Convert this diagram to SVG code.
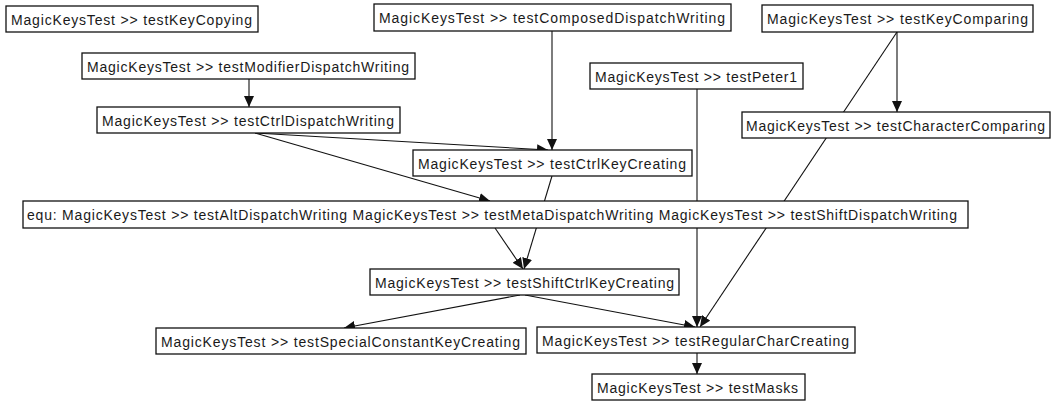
<svg xmlns="http://www.w3.org/2000/svg" width="1052" height="404" viewBox="0 0 1052 404">
<style>
.n rect{fill:#fff;stroke:#111;stroke-width:1.3}
.n text{font-family:"Liberation Sans",Arial,sans-serif;font-size:14px;fill:#1a1a1a}
#edges path{fill:none;stroke:#111;stroke-width:1.1;marker-end:url(#ah)}
</style>
<defs>
<marker id="ah" markerWidth="12" markerHeight="10" refX="11" refY="5" orient="auto" markerUnits="userSpaceOnUse">
<path d="M0,0 L11,5 L0,10 z" fill="#111"/>
</marker>
</defs>
<rect width="1052" height="404" fill="#fff"/>
<g id="edges">
<path d="M249,79 L249,107"/>
<path d="M552,31 L552,150"/>
<path d="M255,133 L548,150"/>
<path d="M255,133 L490,201"/>
<path d="M552,176 L524,269"/>
<path d="M495,228 L523,269"/>
<path d="M520,295 L344,328"/>
<path d="M525,295 L695,327"/>
<path d="M697,89 L697,327"/>
<path d="M897,32 L897,112"/>
<path d="M897,32 L700,327"/>
<path d="M697,353 L697,374"/>
</g>
<g id="n1" class="n"><rect x="6" y="6" width="252" height="26"/><text x="11" y="24.5" textLength="241" lengthAdjust="spacing">MagicKeysTest &gt;&gt; testKeyCopying</text></g>
<g id="n2" class="n"><rect x="82" y="53" width="333" height="26"/><text x="87" y="71.5" textLength="322" lengthAdjust="spacing">MagicKeysTest &gt;&gt; testModifierDispatchWriting</text></g>
<g id="n3" class="n"><rect x="97" y="107" width="303" height="26"/><text x="102" y="125.5" textLength="292" lengthAdjust="spacing">MagicKeysTest &gt;&gt; testCtrlDispatchWriting</text></g>
<g id="n4" class="n"><rect x="374" y="4" width="357" height="27"/><text x="379" y="23" textLength="346" lengthAdjust="spacing">MagicKeysTest &gt;&gt; testComposedDispatchWriting</text></g>
<g id="n5" class="n"><rect x="762" y="5" width="271" height="27"/><text x="767" y="24" textLength="261" lengthAdjust="spacing">MagicKeysTest &gt;&gt; testKeyComparing</text></g>
<g id="n6" class="n"><rect x="590" y="63" width="213" height="26"/><text x="595" y="81.5" textLength="202" lengthAdjust="spacing">MagicKeysTest &gt;&gt; testPeter1</text></g>
<g id="n7" class="n"><rect x="742" y="112" width="308" height="26"/><text x="746" y="130.5" textLength="299" lengthAdjust="spacing">MagicKeysTest &gt;&gt; testCharacterComparing</text></g>
<g id="n8" class="n"><rect x="413" y="150" width="279" height="26"/><text x="418" y="168.5" textLength="268" lengthAdjust="spacing">MagicKeysTest &gt;&gt; testCtrlKeyCreating</text></g>
<g id="n9" class="n"><rect x="23" y="201" width="945" height="27"/><text x="27" y="220" textLength="930" lengthAdjust="spacing">equ: MagicKeysTest &gt;&gt; testAltDispatchWriting MagicKeysTest &gt;&gt; testMetaDispatchWriting MagicKeysTest &gt;&gt; testShiftDispatchWriting</text></g>
<g id="n10" class="n"><rect x="370" y="269" width="309" height="26"/><text x="375" y="287.5" textLength="299" lengthAdjust="spacing">MagicKeysTest &gt;&gt; testShiftCtrlKeyCreating</text></g>
<g id="n11" class="n"><rect x="156" y="328" width="370" height="26"/><text x="161" y="346.5" textLength="359" lengthAdjust="spacing">MagicKeysTest &gt;&gt; testSpecialConstantKeyCreating</text></g>
<g id="n12" class="n"><rect x="537" y="327" width="318" height="26"/><text x="542" y="345.5" textLength="307" lengthAdjust="spacing">MagicKeysTest &gt;&gt; testRegularCharCreating</text></g>
<g id="n13" class="n"><rect x="592" y="374" width="213" height="26"/><text x="597" y="392.5" textLength="201" lengthAdjust="spacing">MagicKeysTest &gt;&gt; testMasks</text></g>
</svg>
